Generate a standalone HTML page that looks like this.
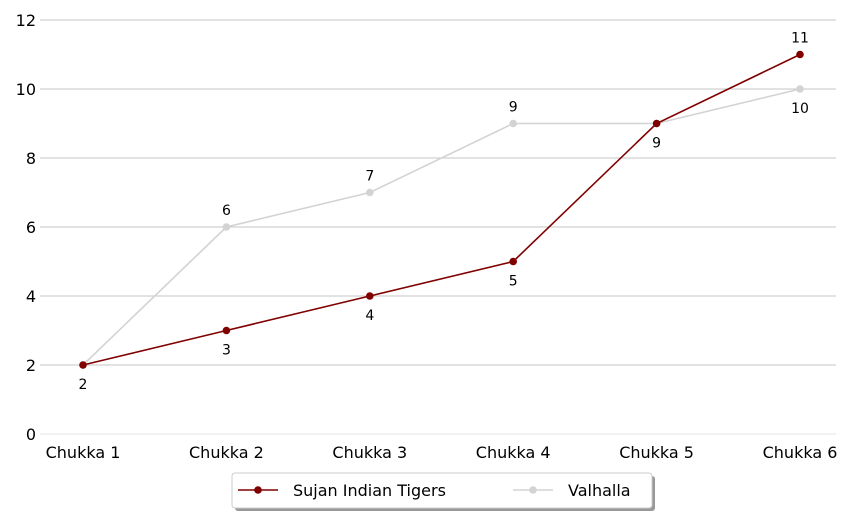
<!DOCTYPE html>
<html><head><meta charset="utf-8"><style>
html,body{margin:0;padding:0;background:#fff;}
svg{display:block;font-family:"DejaVu Sans","Liberation Sans",sans-serif;}
</style></head><body>
<svg id="chart" width="864" height="518"></svg>
<script>
const categories=["Chukka 1","Chukka 2","Chukka 3","Chukka 4","Chukka 5","Chukka 6"];
const tigers=[2,3,4,5,9,11];
const valhalla=[2,6,7,9,9,10];
const yTicks=[0,2,4,6,8,10,12];
const NS="http://www.w3.org/2000/svg";
const svg=document.getElementById("chart");
const x=i=>83+i*143.4;
const y=v=>434-v*34.5;
function mk(t,a,p){const e=document.createElementNS(NS,t);for(const k in a)e.setAttribute(k,a[k]);(p||svg).appendChild(e);return e;}
yTicks.forEach(v=>{
  const g=mk("line",{x1:40,x2:836,y1:y(v),y2:y(v),stroke:v===0?"#e6e6e6":"#b0b0b0","stroke-width":v===0?1:0.8});
  
  
  const t=mk("text",{x:36,y:y(v)+6,"text-anchor":"end","font-size":16,fill:"#000"});t.textContent=v;
  
  
});
categories.forEach((c,i)=>{
  const t=mk("text",{x:x(i),y:458,"text-anchor":"middle","font-size":16,fill:"#000"});t.textContent=c;
  
  
});
function series(data,color,name,other){
  const pl=mk("polyline",{points:data.map((v,i)=>x(i)+","+y(v)).join(" "),fill:"none",stroke:color,"stroke-width":1.6});
  
  
  data.forEach((v,i)=>{
    const c=mk("circle",{cx:x(i),cy:y(v),r:3.8,fill:color});
    
    
  });
  return pl;
}
series(valhalla,"#d3d3d3","valhalla");
series(tigers,"#800000","tigers");
// labels: higher value labeled above, lower below
categories.forEach((c,i)=>{
  const a=tigers[i],b=valhalla[i];
  if(a===b){
    const t=mk("text",{x:x(i),y:y(a)+24,"text-anchor":"middle","font-size":14,fill:"#000"});t.textContent=a;
    
    
    return;
  }
  [[a,a>b],[b,b>a]].forEach(([v,up])=>{
    const t=mk("text",{x:x(i),y:up?y(v)-12:y(v)+24,"text-anchor":"middle","font-size":14,fill:"#000"});t.textContent=v;
    
    
  });
});
// legend
const lg=mk("g",{});


mk("rect",{x:235,y:476,width:420,height:35,rx:3,fill:"#999"},lg);
mk("rect",{x:232,y:473,width:420,height:35,rx:3,fill:"#fff",stroke:"#ccc"},lg);
const e1=mk("g",{},lg);


mk("line",{x1:238,x2:278,y1:490,y2:490,stroke:"#800000","stroke-width":1.6},e1);
mk("circle",{cx:258,cy:490,r:3.8,fill:"#800000"},e1);
const t1=mk("text",{x:293,y:496,"font-size":16,fill:"#000"},e1);t1.textContent="Sujan Indian Tigers";
const e2=mk("g",{},lg);


mk("line",{x1:513,x2:553,y1:490,y2:490,stroke:"#d3d3d3","stroke-width":1.6},e2);
mk("circle",{cx:533,cy:490,r:3.8,fill:"#d3d3d3"},e2);
const t2=mk("text",{x:568,y:496,"font-size":16,fill:"#000"},e2);t2.textContent="Valhalla";
</script>
</body></html>
